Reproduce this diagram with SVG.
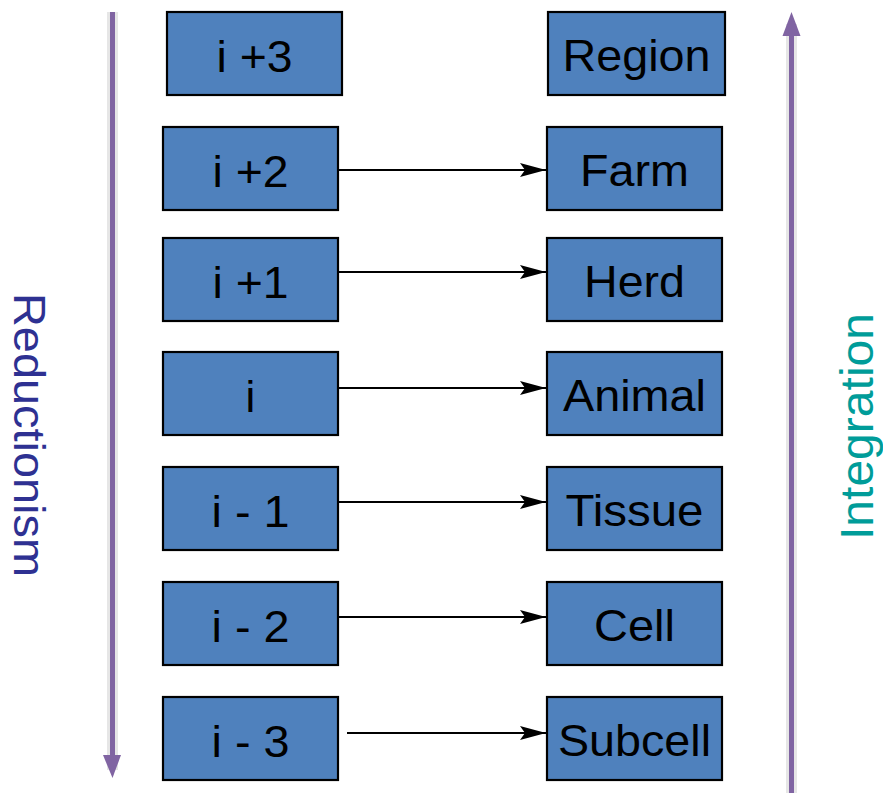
<svg xmlns="http://www.w3.org/2000/svg" width="883" height="793" viewBox="0 0 883 793">
<style>
.box{fill:#4F81BD;stroke:#000;stroke-width:2.2}
.lbl{font-family:"Liberation Sans",Arial,sans-serif;font-size:44px;fill:#000;text-anchor:middle}
.con{stroke:#000;stroke-width:2;fill:none;marker-end:url(#ah)}
.axis{stroke:#8064A2;stroke-width:5;fill:none}
.halo{stroke:#e6e6e6;stroke-width:11;fill:none}
</style>
<defs>
<marker id="ah" markerWidth="26" markerHeight="14" refX="26" refY="7" orient="auto" markerUnits="userSpaceOnUse">
<path d="M0,0 L26,7 L0,14 L5,7 Z" fill="#000"/>
</marker>
</defs>
<rect width="883" height="793" fill="#fff"/>
<g id="reduction-axis">
<line class="halo" x1="112.5" y1="12" x2="112.5" y2="770"/>
<line class="axis" x1="112.5" y1="12" x2="112.5" y2="760"/>
<path d="M103,755 L121,755 L112.5,778 Z" fill="#8064A2"/>
<text x="0" y="0" transform="translate(14,435) rotate(90)" font-family="'Liberation Sans',Arial,sans-serif" font-size="44" fill="#2E3192" text-anchor="middle" textLength="284" lengthAdjust="spacingAndGlyphs">Reductionism</text>
</g>
<g id="integration-axis">
<line class="halo" x1="791.5" y1="24" x2="791.5" y2="793"/>
<line class="axis" x1="791.5" y1="30" x2="791.5" y2="793"/>
<path d="M782.5,36 L800.5,36 L791.5,12 Z" fill="#8064A2"/>
<text x="0" y="0" transform="translate(873,426.5) rotate(-90)" font-family="'Liberation Sans',Arial,sans-serif" font-size="46" fill="#009C99" text-anchor="middle" textLength="227" lengthAdjust="spacingAndGlyphs">Integration</text>
</g>
<g id="n-i3"><rect class="box" x="167" y="12" width="175" height="83"/><text class="lbl" x="254.5" y="71.5" textLength="76" lengthAdjust="spacingAndGlyphs">i +3</text></g>
<g id="n-i2"><rect class="box" x="163" y="127" width="175" height="83"/><text class="lbl" x="250.5" y="186.5" textLength="76" lengthAdjust="spacingAndGlyphs">i +2</text></g>
<g id="n-i1"><rect class="box" x="163" y="238" width="175" height="83"/><text class="lbl" x="250.5" y="297.5" textLength="76" lengthAdjust="spacingAndGlyphs">i +1</text></g>
<g id="n-i"><rect class="box" x="163" y="352" width="175" height="83"/><text class="lbl" x="250.5" y="411.5">i</text></g>
<g id="n-im1"><rect class="box" x="163" y="467" width="175" height="83"/><text class="lbl" x="250.5" y="526.5" textLength="78" lengthAdjust="spacingAndGlyphs">i - 1</text></g>
<g id="n-im2"><rect class="box" x="163" y="582" width="175" height="83"/><text class="lbl" x="250.5" y="641.5" textLength="78" lengthAdjust="spacingAndGlyphs">i - 2</text></g>
<g id="n-im3"><rect class="box" x="163" y="697" width="175" height="83"/><text class="lbl" x="250.5" y="756.5" textLength="78" lengthAdjust="spacingAndGlyphs">i - 3</text></g>
<g id="n-region"><rect class="box" x="548" y="12" width="177" height="83"/><text class="lbl" x="636.5" y="71" textLength="148" lengthAdjust="spacingAndGlyphs">Region</text></g>
<g id="n-farm"><rect class="box" x="547" y="127" width="175" height="83"/><text class="lbl" x="634.5" y="186" textLength="109" lengthAdjust="spacingAndGlyphs">Farm</text></g>
<g id="n-herd"><rect class="box" x="547" y="238" width="175" height="83"/><text class="lbl" x="634.5" y="297" textLength="101" lengthAdjust="spacingAndGlyphs">Herd</text></g>
<g id="n-animal"><rect class="box" x="547" y="352" width="175" height="83"/><text class="lbl" x="634.5" y="411" textLength="143" lengthAdjust="spacingAndGlyphs">Animal</text></g>
<g id="n-tissue"><rect class="box" x="547" y="467" width="175" height="83"/><text class="lbl" x="634.5" y="526" textLength="138" lengthAdjust="spacingAndGlyphs">Tissue</text></g>
<g id="n-cell"><rect class="box" x="547" y="582" width="175" height="83"/><text class="lbl" x="634.5" y="641" textLength="81" lengthAdjust="spacingAndGlyphs">Cell</text></g>
<g id="n-subcell"><rect class="box" x="547" y="697" width="175" height="83"/><text class="lbl" x="634.5" y="756" textLength="153" lengthAdjust="spacingAndGlyphs">Subcell</text></g>
<g id="connectors">
<line class="con" x1="339" y1="170" x2="546" y2="170"/>
<line class="con" x1="339" y1="272" x2="546" y2="272"/>
<line class="con" x1="339" y1="388" x2="546" y2="388"/>
<line class="con" x1="339" y1="502" x2="546" y2="502"/>
<line class="con" x1="339" y1="617" x2="546" y2="617"/>
<line class="con" x1="347" y1="733" x2="546" y2="733"/>
</g>
</svg>
